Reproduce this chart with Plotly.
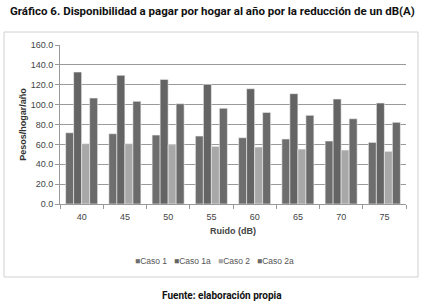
import plotly.graph_objects as go

ruido = ["40", "45", "50", "55", "60", "65", "70", "75"]
caso1 = [71.7, 70.7, 69.4, 68.4, 66.7, 65.4, 63.4, 62.0]
caso1a = [132.8, 129.5, 125.4, 120.4, 116.0, 111.0, 105.6, 101.6]
caso2 = [60.7, 60.7, 59.7, 58.0, 57.3, 55.3, 54.3, 53.0]
caso2a = [106.6, 103.3, 100.9, 96.3, 92.2, 89.2, 85.8, 82.2]
series_names = ["Caso 1", "Caso 1a", "Caso 2", "Caso 2a"]
colors = ["#6e6e6e", "#646464", "#a8a8a8", "#6a6a6a"]

W, H = 423, 304
L, R, T, B = 60, 17, 45, 100
pw, ph = W - L - R, H - T - B

def px(x):
    return (x - L) / pw

def py(y):
    return (H - B - y) / ph

COND = "Roboto"

fig = go.Figure()
for name, vals, c in zip(series_names, [caso1, caso1a, caso2, caso2a], colors):
    fig.add_trace(go.Bar(x=ruido, y=vals, name=name, showlegend=False, hoverinfo="skip",
                         marker=dict(color=c, line=dict(color="#f0f0f0", width=0.6))))

legend_x = [133, 172, 216, 255]
annotations = [
    dict(text="<b>Gráfico 6. Disponibilidad a pagar por hogar al año por la reducción de un dB(A)</b>",
         xref="paper", yref="paper", x=px(212), y=py(11), xanchor="center", yanchor="middle",
         showarrow=False, font=dict(family=COND, size=11.5, color="#111")),
    dict(text="<b>Fuente: elaboración propia</b>",
         xref="paper", yref="paper", x=px(222), y=py(295), xanchor="center", yanchor="middle",
         showarrow=False, font=dict(family=COND, size=10, color="#111")),
]
for name, c, lx in zip(series_names, colors, legend_x):
    annotations.append(dict(
        text=f"<span style='color:{c}'>■</span>{name}",
        xref="paper", yref="paper", x=px(lx), y=py(261), xanchor="left", yanchor="middle",
        showarrow=False, font=dict(family="Liberation Sans", size=8.5, color="#555")))

fig.update_layout(
    width=W, height=H,
    margin=dict(l=L, r=R, t=T, b=B),
    paper_bgcolor="white", plot_bgcolor="white",
    barmode="group", bargap=0.26, bargroupgap=0,
    font=dict(family="Liberation Sans", size=9, color="#444"),
    xaxis=dict(type="category", showline=True, linecolor="#999", linewidth=1,
               ticks="outside", tickson="boundaries", ticklen=4, tickcolor="#999",
               ticklabelstandoff=4,
               tickfont=dict(size=9, color="#444"),
               title=dict(text="<b>Ruido (dB)</b>", font=dict(size=9, color="#444"), standoff=6)),
    yaxis=dict(range=[0, 160], dtick=20, tickformat=".1f", showgrid=True, gridcolor="#9a9a9a",
               gridwidth=1, showline=True, linecolor="#999", linewidth=1,
               ticks="outside", ticklen=4, tickcolor="#999", zeroline=False,
               tickfont=dict(size=9, color="#444"),
               title=dict(text="<b>Pesos/hogar/año</b>", font=dict(size=9, color="#333"), standoff=2)),
    shapes=[dict(type="rect", xref="paper", yref="paper",
                 x0=px(4), x1=px(418), y0=py(277), y1=py(32),
                 line=dict(color="#d0d0d0", width=1), layer="below")],
    annotations=annotations,
)

fig.write_html("out.html", config={"displayModeBar": False},
               post_script="document.body.style.margin='0';")
